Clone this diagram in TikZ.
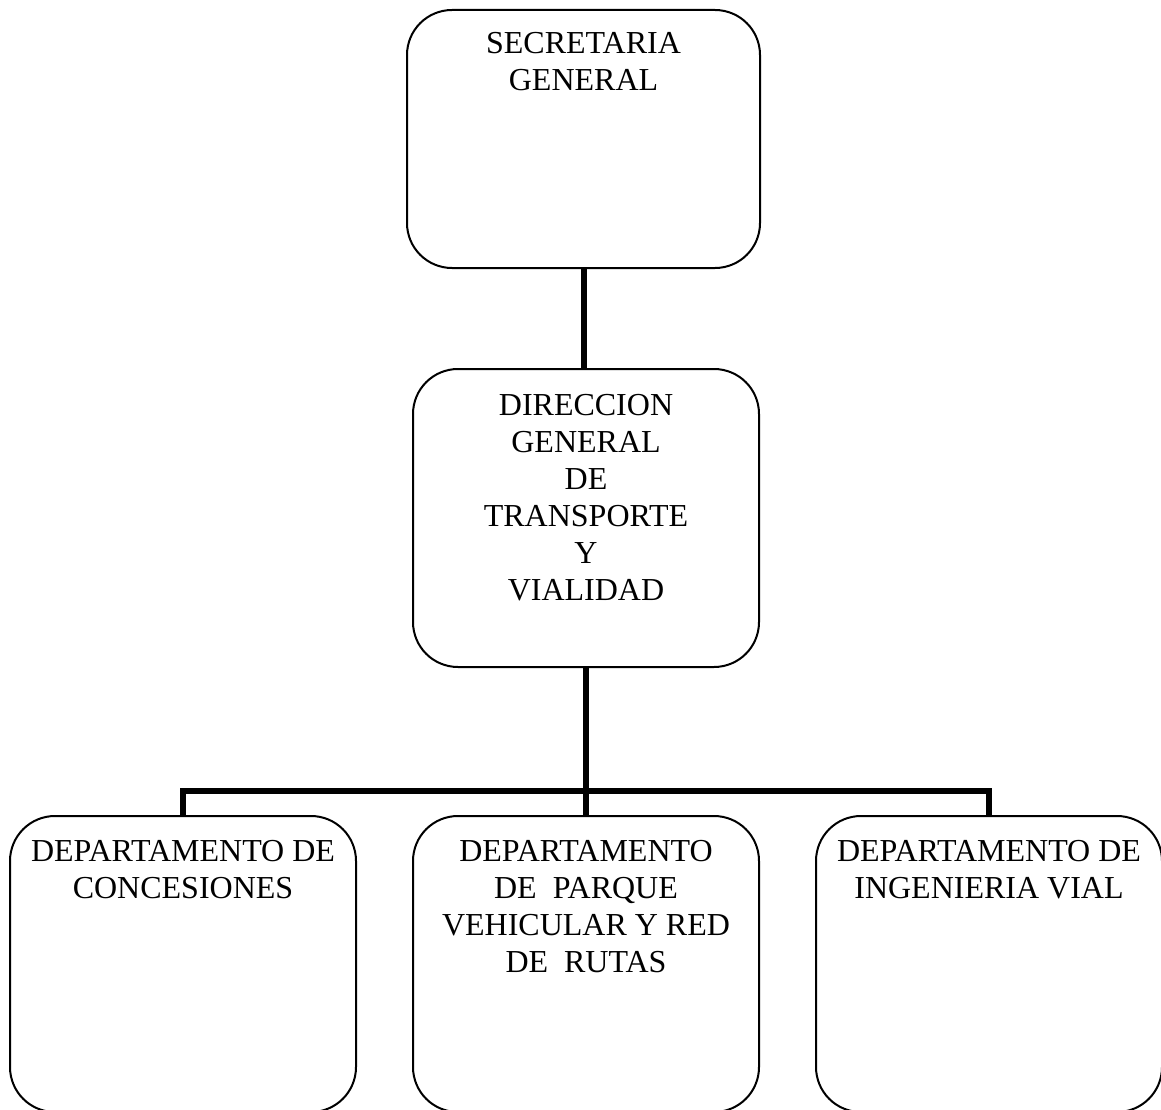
\documentclass[tikz,border=0pt]{standalone}
\usepackage{fontspec}
\setmainfont{Liberation Serif}
\begin{document}
\begin{tikzpicture}[x=1pt,y=-1pt,
  unit/.style={draw=black,line width=2pt,rounded corners=45pt,inner sep=0pt,
    minimum width=346pt,minimum height=296pt},
  caption/.style={anchor=north,inner sep=0pt,align=center,
    font=\fontsize{32}{37}\selectfont},
  conn/.style={draw=black,line width=6pt}]
\useasboundingbox (0,0) rectangle (1161,1110);

% organisational units
\node[unit,minimum width=353pt,minimum height=258pt] (sec) at (583.5,139) {};
\node[unit,minimum height=298pt] (dir) at (586,518) {};
\node[unit] (conc) at (183,964) {};
\node[unit] (parq) at (586,964) {};
\node[unit] (ing)  at (989,964) {};

% unit names
\node[caption] (secT) at (583.5,32) {SECRETARIA\\GENERAL};
\node[caption] (dirT) at (586,394) {DIRECCION\\GENERAL\\DE\\TRANSPORTE\\Y\\VIALIDAD};
\node[caption] (concT) at (183,840) {DEPARTAMENTO DE\\CONCESIONES};
\node[caption] (parqT) at (586,840) {DEPARTAMENTO\\DE\ \ PARQUE\\VEHICULAR Y RED\\DE\ \ RUTAS};
\node[caption] (ingT) at (989,840) {DEPARTAMENTO DE\\INGENIERIA VIAL};

% reporting lines
\draw[conn] (sec.south) -- (sec.south |- dir.north);
\draw[conn] (dir.south) -- (parq.north);
\draw[conn] (conc.north) -- ++(0,-24) -| (ing.north);
\end{tikzpicture}
\end{document}
